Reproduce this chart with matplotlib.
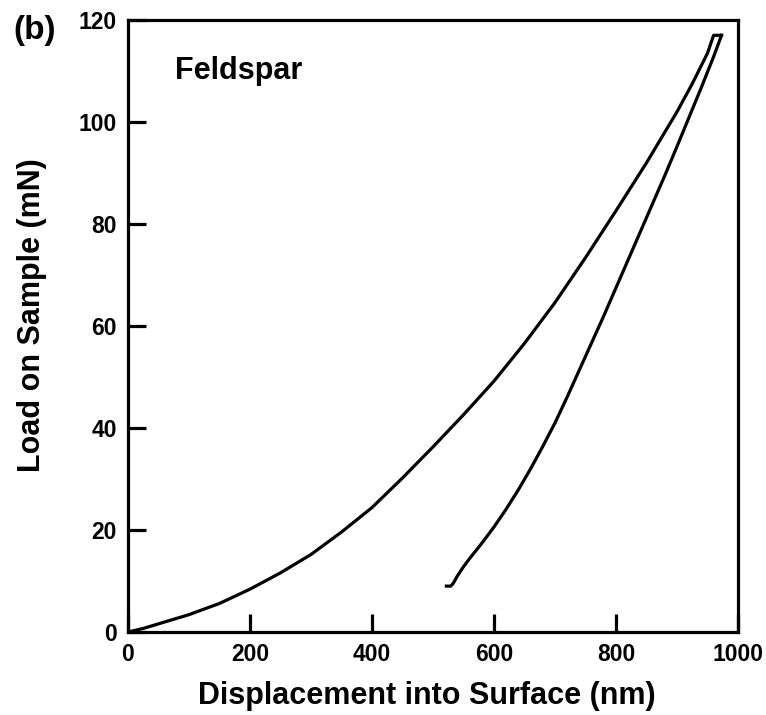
import matplotlib
matplotlib.use("Agg")
import matplotlib.pyplot as plt

plt.rcParams["font.family"] = "sans-serif"
plt.rcParams["font.sans-serif"] = ["Liberation Sans", "DejaVu Sans"]
plt.rcParams["font.weight"] = "bold"

# loading branch (nm, mN)
load_x = [0, 25, 50, 75, 100, 150, 200, 250, 300, 350, 400, 450, 500, 550,
          600, 650, 700, 750, 800, 850, 900, 925, 950, 960, 973]
load_y = [0, 0.7, 1.6, 2.5, 3.4, 5.6, 8.4, 11.6, 15.2, 19.6, 24.4, 30.2,
          36.3, 42.6, 49.2, 56.6, 64.6, 73.4, 82.6, 92.0, 102.0, 107.5,
          113.5, 117.0, 117.0]

# unloading branch
unload_x = [973, 960, 940, 920, 900, 880, 860, 840, 820, 800, 780, 760, 740,
            720, 700, 680, 660, 640, 620, 600, 580, 560, 550, 540, 533, 529, 522]
unload_y = [117.0, 112.8, 106.8, 101.0, 95.2, 89.5, 84.0, 78.5, 73.0, 67.5,
            62.0, 56.7, 51.4, 46.1, 41.0, 36.4, 32.0, 27.9, 24.1, 20.6, 17.4,
            14.4, 12.8, 11.0, 9.5, 9.0, 9.0]

xticks = [0, 200, 400, 600, 800, 1000]
yticks = [0, 20, 40, 60, 80, 100, 120]

fig = plt.figure(figsize=(7.66, 7.15), dpi=100)
ax = fig.add_axes([128 / 766, 83 / 715, 610 / 766, 612 / 715])

ax.plot(load_x, load_y, color="black", lw=2.3, solid_joinstyle="round")
ax.plot(unload_x, unload_y, color="black", lw=2.3, solid_joinstyle="round")

ax.set_xlim(0, 1000)
ax.set_ylim(0, 120)
ax.set_xticks(xticks)
ax.set_yticks(yticks)
ax.tick_params(direction="in", length=13, width=2.3, pad=8, labelsize=16.5)
for lab in ax.get_xticklabels() + ax.get_yticklabels():
    lab.set_fontweight("bold")
for sp in ax.spines.values():
    sp.set_linewidth(2.3)

ax.set_xlabel("Displacement into Surface (nm)", fontsize=22, fontweight="bold")
ax.set_ylabel("Load on Sample (mN)", fontsize=22, fontweight="bold")
ax.xaxis.set_label_coords(0.49, -0.08)
ax.yaxis.set_label_coords(-0.133, 0.518)

ax.text(77, 110, "Feldspar", fontsize=22, fontweight="bold", va="center", ha="left")
fig.text(0.017, 0.958, "(b)", fontsize=24, fontweight="bold", va="center", ha="left")

fig.savefig("out.png", dpi=100)
